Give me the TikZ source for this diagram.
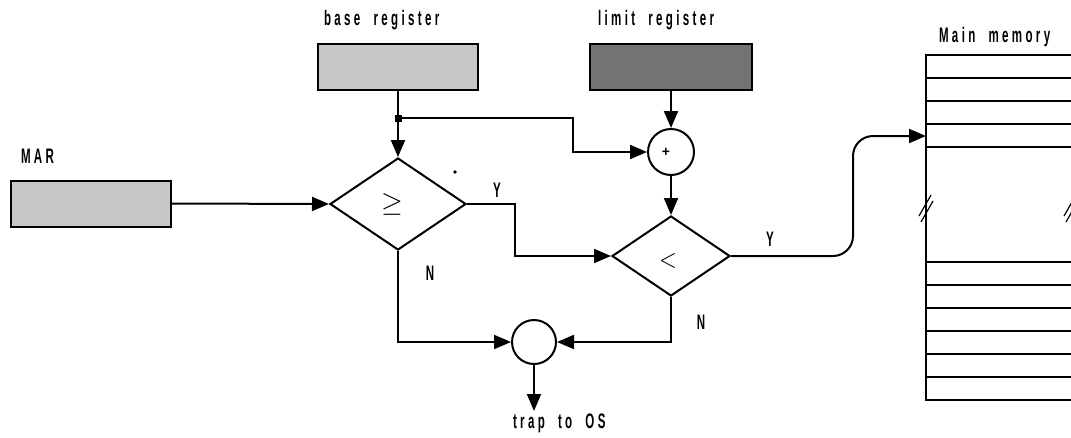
\documentclass[tikz,border=0pt]{standalone}
\usepackage{fontspec}
\setmainfont{Liberation Sans}
\newfontfamily\lblfont[FakeStretch=0.55,LetterSpace=16,WordSpace=2]{Liberation Sans Bold}
\usetikzlibrary{arrows.meta,shapes.geometric}
\definecolor{lightreg}{gray}{0.78}
\definecolor{darkreg}{gray}{0.45}
\begin{document}
\begin{tikzpicture}[x=1pt,y=-1pt,
  line width=2pt,
  tip/.style={-{Triangle[length=17pt,width=14pt]}},
  reg/.style={draw, minimum width=160pt, minimum height=46pt, inner sep=0pt},
  dia/.style={draw, diamond, inner sep=0pt},
  circ/.style={draw, circle, minimum size=46pt, inner sep=0pt},
  lbl/.style={font=\lblfont\fontsize{21}{21}\selectfont, inner sep=0pt, anchor=west},
  yn/.style={font=\lblfont\fontsize{21}{21}\selectfont, inner sep=0pt},
  brk/.style={line width=1.2pt},
]
\useasboundingbox (0,0) rectangle (1071,437);
\clip (0,0) rectangle (1071,437);

% registers
\node[reg, fill=lightreg] (mar) at (91,203.5) {};
\node[lbl] (marlbl) at (20,156) {MAR};
\node[reg, fill=lightreg] (base) at (398,66.5) {};
\node[lbl] (baselbl) at (323,20) {base register};
\node[reg, fill=darkreg, minimum width=162pt] (limit) at (671,66.5) {};
\node[lbl] (limitlbl) at (597,20) {limit register};

% comparators
\node[dia, minimum width=136pt, minimum height=92pt] (ge) at (398,204) {};
\node[inner sep=0pt] (gesym) at (392,204) {\scalebox{2.8}{$\geq$}};
\node[dia, minimum width=118pt, minimum height=80pt] (lt) at (671,256) {};
\node[inner sep=0pt] (ltsym) at (668,261) {\scalebox{2.3}[2.6]{$<$}};
\node[circ] (plus) at (671,152) {};
\node[font=\bfseries\fontsize{14}{14}\selectfont, inner sep=0pt] (plussym) at (666,152) {+};
\node[circ, minimum size=44pt] (orc) at (534,342) {};

\coordinate (jn) at (398,118);
\fill (jn) +(-3.5,-3.5) rectangle +(3.5,3.5);
\fill (455,172) circle (1.8pt);

% connectors
\draw[tip] (mar.east) -- (ge.west);
\draw (base.south) -- (jn);
\draw[tip] (jn) -- (ge.north);
\draw[tip] (jn) -- ++(175,0) |- (plus.west);
\draw[tip] (limit.south) -- (plus.north);
\draw[tip] (plus.south) -- (lt.north);
\draw[tip] (ge.east) -- ++(48,0) |- (lt.west);
\draw[tip] (ge.south) |- (orc.west);
\draw[tip] (lt.south) |- (orc.east);
\draw[tip] (orc.south) -- ++(0,46) coordinate (trap);
\node[lbl] (traplbl) at (512,423) {trap to OS};

\node[yn] (y1) at (497,190) {Y};
\node[yn] (n1) at (430,273) {N};
\node[yn] (y2) at (770,239) {Y};
\node[yn] (n2) at (701,322) {N};

% main memory
\node[lbl] (memlbl) at (938,37) {Main memory};
\coordinate (memin) at (926,136);
\draw (926,55) rectangle (1080,400);
\foreach \yy in {78,101,124,147,262,285,308,331,354,377}
  \draw (926,\yy) -- (1080,\yy);
\draw[brk] (919,216) -- (931,195);
\draw[brk] (921,222) -- (933,201);
\draw[brk] (1064,216) -- (1076,195);
\draw[brk] (1066,222) -- (1078,201);

\draw[tip, rounded corners=20pt] (lt.east) -- (853,256) -- (853,136) -- (memin);
\end{tikzpicture}
\end{document}
